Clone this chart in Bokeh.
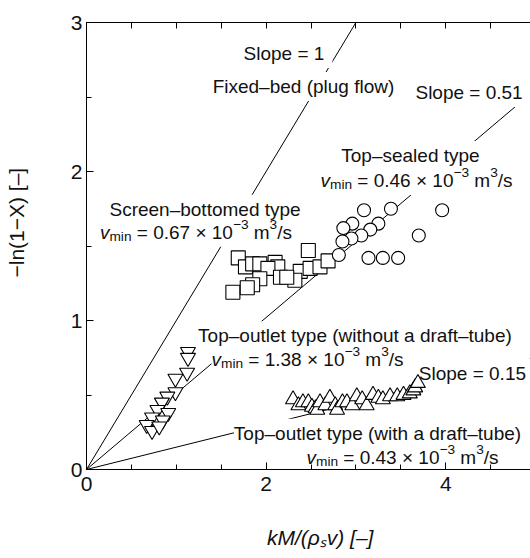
import math
import numpy as np
from bokeh.plotting import figure
from bokeh.models import Range1d, LinearAxis, SingleIntervalTicker, FixedTicker, Label
from bokeh.embed import file_html
from bokeh.resources import INLINE

# ---------------- data ----------------
# Screen-bottomed type (squares)
sq_x = [1.69, 1.77, 1.85, 1.93, 2.10, 2.13, 2.02, 2.47, 2.38, 2.49, 2.60, 2.69, 2.16, 2.32, 1.93, 1.85, 1.63, 1.79, 2.23]
sq_y = [1.42, 1.36, 1.38, 1.38, 1.39, 1.36, 1.35, 1.47, 1.33, 1.35, 1.36, 1.40, 1.29, 1.27, 1.28, 1.24, 1.19, 1.22, 1.29]
# Top-sealed type (circles)
ci_x = [3.09, 3.39, 3.96, 2.96, 2.86, 3.25, 3.16, 3.06, 2.95, 2.85, 3.70, 2.81, 3.14, 3.30, 3.47]
ci_y = [1.74, 1.75, 1.74, 1.65, 1.62, 1.65, 1.61, 1.57, 1.55, 1.53, 1.57, 1.44, 1.42, 1.42, 1.42]
# Top-outlet type without a draft-tube (inverted triangles)
it_x = [1.13, 1.13, 1.12, 0.99, 0.99, 0.90, 0.84, 0.79, 0.91, 0.73, 0.85, 0.67, 0.73, 0.81]
it_y = [0.79, 0.75, 0.65, 0.61, 0.52, 0.49, 0.45, 0.40, 0.38, 0.35, 0.33, 0.30, 0.26, 0.29]
# Top-outlet type with a draft-tube (triangles)
tr_x = [2.30, 2.36, 2.41, 2.47, 2.51, 2.55, 2.57, 2.60, 2.66, 2.71, 2.77, 2.79, 2.85, 2.90,
        2.96, 3.01, 3.07, 3.12, 3.19, 3.25, 3.30, 3.38, 3.46, 3.53, 3.60, 3.64, 3.66, 3.69]
tr_y = [0.47, 0.43, 0.45, 0.45, 0.42, 0.41, 0.40, 0.45, 0.43, 0.48, 0.43, 0.40, 0.45, 0.45,
        0.43, 0.49, 0.47, 0.43, 0.50, 0.48, 0.47, 0.49, 0.49, 0.50, 0.51, 0.53, 0.55, 0.58]
# fitted slopes through the origin
slopes = [1.0, 0.51, 0.15]

X_LABEL = "kM/(ρₛv) [–]"
Y_LABEL = "−ln(1−X) [–]"

X_END = 4.944
Y_END = 3.0

FONT = "Liberation Sans"
TXT = "#111111"
F = 19.0     # annotation font size (px)
FA = 21.0    # axis font size (px)
NB = "\u00a0"

# Arial / Liberation Sans advance widths (1/1000 em)
W = {' ': 278, NB: 278, '.': 278, ',': 278, '=': 584, '×': 584, '−': 584, '–': 556, '-': 333,
     '(': 333, ')': 333, '[': 278, ']': 278, '/': 278, 'ρ': 577}
for c in "0123456789":
    W[c] = 556
W.update(dict(zip("abcdefghijklmnopqrstuvwxyz",
                  [556, 556, 500, 556, 556, 278, 556, 556, 222, 222, 500, 222, 833,
                   556, 556, 556, 556, 333, 500, 278, 556, 500, 722, 500, 500, 500])))
W.update(dict(zip("ABCDEFGHIJKLMNOPQRSTUVWXYZ",
                  [667, 667, 722, 722, 667, 611, 778, 722, 278, 500, 667, 556, 833,
                   722, 778, 667, 778, 722, 667, 611, 722, 667, 944, 667, 667, 611])))


def twidth(s, size):
    return sum(W.get(c, 556) for c in s) * size / 1000.0


p = figure(width=530, height=558, output_backend="svg", toolbar_location=None,
           x_range=Range1d(0, X_END), y_range=Range1d(0, Y_END),
           min_border_left=86, min_border_right=0, min_border_top=22, min_border_bottom=89)
p.outline_line_color = None
p.grid.visible = False
p.background_fill_color = "white"
p.border_fill_color = "white"


def style_axis(ax):
    ax.axis_line_color = "black"
    ax.axis_line_width = 1
    ax.major_tick_line_color = "black"
    ax.minor_tick_line_color = "black"
    ax.major_tick_in = 7
    ax.major_tick_out = 0
    ax.minor_tick_in = 5
    ax.minor_tick_out = 0
    ax.major_label_text_font = FONT
    ax.major_label_text_font_size = f"{FA}px"
    ax.major_label_text_color = TXT
    ax.axis_label_text_font = FONT
    ax.axis_label_text_font_size = f"{FA}px"
    ax.axis_label_text_color = TXT


xb = p.below[0]
xb.ticker = SingleIntervalTicker(interval=2, num_minor_ticks=4)
style_axis(xb)
xb.major_label_standoff = 7
xb.axis_label = NB * 4 + X_LABEL
xb.axis_label_text_font_style = "italic"
xb.axis_label_standoff = 32

yl = p.left[0]
yl.ticker = SingleIntervalTicker(interval=1, num_minor_ticks=2)
style_axis(yl)
yl.major_label_standoff = 4
yl.axis_label = NB * 8 + Y_LABEL
yl.axis_label_text_font_style = "normal"
yl.axis_label_standoff = 40

# top axis: ticks only, no labels
xt = LinearAxis(ticker=FixedTicker(ticks=[], minor_ticks=list(np.arange(0, 6.01, 0.5))))
style_axis(xt)
xt.axis_label = None
xt.minor_tick_in = 6
xt.major_label_standoff = 0
p.add_layout(xt, "above")

# fitted lines through origin
for s in slopes:
    x1 = min(X_END, Y_END / s)
    p.line([0, x1], [0, s * x1], line_color="black", line_width=1, level="image")

bg_labels = []
fg_labels = []


def rich(x, y, pieces, size, align="center"):
    ws = [twidth(t, size * sc) for t, st, sc, sh in pieces]
    cum = -sum(ws) / 2 if align == "center" else 0.0
    for (t, st, sc, sh), w in zip(pieces, ws):
        common = dict(x=x, y=y, text=t, x_offset=cum, y_offset=sh * size,
                      text_font=FONT, text_font_size=f"{size * sc:.1f}px",
                      text_font_style=st, text_align="left",
                      text_baseline="alphabetic", level="underlay")
        bg_labels.append(Label(text_color="white", background_fill_color="white",
                               padding=4, **common))
        fg_labels.append(Label(text_color=TXT, **common))
        cum += w


def plain(s):
    return [(s, "normal", 1, 0)]


def vmin(val):
    return [("v", "italic", 1, 0), ("min", "normal", 0.72, -0.22),
            (f"{NB}={NB}{val}{NB}×{NB}10", "normal", 1, 0), ("−3", "normal", 0.72, 0.42),
            (f"{NB}m", "normal", 1, 0), ("3", "normal", 0.72, 0.42), ("/s", "normal", 1, 0)]


rich(2.199, 2.792, plain("Slope = 1"), F)
rich(2.416, 2.571, plain("Fixed–bed (plug flow)"), F)
rich(4.26, 2.531, plain("Slope = 0.51"), F)
rich(3.619, 2.107, plain("Top–sealed type"), F)
rich(3.675, 1.940, vmin("0.46"), F)
rich(1.320, 1.746, plain("Screen–bottomed type"), F)
rich(1.219, 1.592, vmin("0.67"), F)
rich(3.001, 0.897, plain("Top–outlet type (without a draft–tube)"), F)
rich(2.461, 0.740, vmin("1.38"), F)
rich(3.70, 0.646, plain("Slope = 0.15"), F, align="left")
rich(3.252, 0.244, plain("Top–outlet type (with a draft–tube)"), F)
rich(3.519, 0.082, vmin("0.43"), F)

for lab in bg_labels + fg_labels:
    p.add_layout(lab)

# markers
mk = dict(fill_color="white", line_color="black", line_width=1.1)
p.scatter(sq_x, sq_y, marker="square", size=14, **mk)
p.scatter(ci_x, ci_y, marker="circle", size=13, **mk)
p.scatter(it_x, it_y, marker="inverted_triangle", size=15, **mk)
p.scatter(tr_x, tr_y, marker="triangle", size=15, **mk)

open("out.html", "w").write(file_html(p, INLINE))
